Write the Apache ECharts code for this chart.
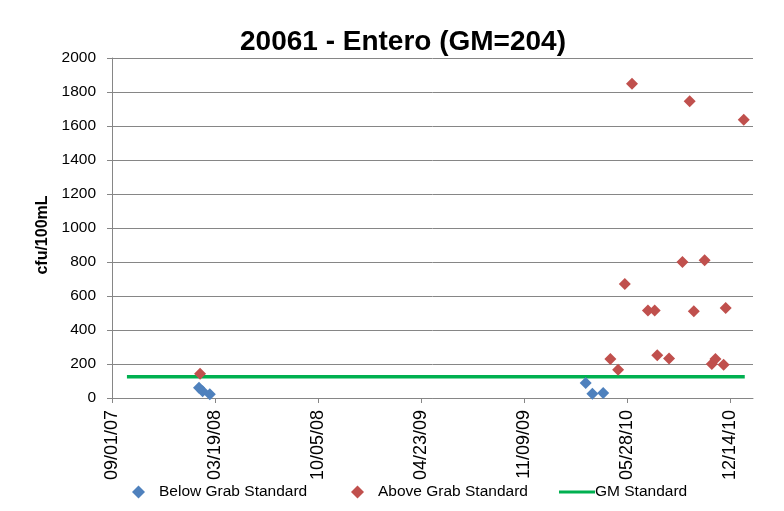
<!DOCTYPE html>
<html><head><meta charset="utf-8">
<script src="https://cdn.jsdelivr.net/npm/echarts@6/dist/echarts.min.js"></script>
<style>html,body{margin:0;padding:0;background:#fff}#c{width:784px;height:511px}</style>
</head><body><div id="c"></div>
<script>
var titleText = '20061 - Entero (GM=204)';
var yAxisName = 'cfu/100mL';
var axisStart = '2007-09-01';
var axisEnd = '2011-01-28';
var tickStepDays = 200;
var yTicks = [0, 200, 400, 600, 800, 1000, 1200, 1400, 1600, 1800, 2000];

var belowDates = ['2008-02-17','2008-02-24','2008-03-09','2010-03-09','2010-03-22','2010-04-12'];
var belowValues = [60, 40, 22, 88, 25, 29];

var aboveDates = ['2008-02-19','2010-04-26','2010-05-11','2010-05-24','2010-06-07','2010-07-08','2010-07-21','2010-07-26','2010-08-18','2010-09-13','2010-09-27','2010-10-05','2010-10-26','2010-11-09','2010-11-16','2010-12-02','2010-12-06','2011-01-10'];
var aboveValues = [143, 229, 166, 671, 1849, 514, 514, 251, 232, 800, 1745, 510, 810, 200, 230, 195, 529, 1637];

var gmDates = ['2007-09-30', '2011-01-12'];
var gmValues = [125, 125];

var DAY = 86400000;
function ts(s){ var p = s.split('-'); return Date.UTC(+p[0], +p[1]-1, +p[2]); }
var t0 = ts(axisStart);
function dayOf(s){ return Math.round((ts(s) - t0) / DAY); }
function pad(n){ return (n < 10 ? '0' : '') + n; }
function fmt(d){
  var dt = new Date(t0 + d * DAY);
  return pad(dt.getUTCMonth()+1) + '/' + pad(dt.getUTCDate()) + '/' + pad(dt.getUTCFullYear() % 100);
}
function pairs(ds, vs){ return ds.map(function(d,i){ return [dayOf(d), vs[i]]; }); }

var FONT = 'Liberation Sans, Arial, sans-serif';
var chart = echarts.init(document.getElementById('c'), null, {renderer:'canvas'});
chart.setOption({
  animation: false,
  backgroundColor: '#fff',
  title: {text: titleText, left: 398, top: 23, textAlign: 'center',
    textStyle: {fontFamily: FONT, fontSize: 28, fontWeight: 'bold', color: '#000'}},
  grid: {left: 112, right: 31, top: 58, bottom: 113, containLabel: false},
  xAxis: {
    type: 'value', min: 0, max: dayOf(axisEnd), interval: tickStepDays,
    axisLine: {show: true, onZero: false, lineStyle: {color: '#868686', width: 1}},
    axisTick: {show: true, inside: false, length: 5, lineStyle: {color: '#868686'}},
    splitLine: {show: false},
    axisLabel: {rotate: 90, margin: 12, fontFamily: FONT, fontSize: 18, color: '#000', showMaxLabel: false,
      formatter: function(v){ return v % tickStepDays === 0 ? fmt(v) : ''; }}
  },
  yAxis: {
    type: 'value', min: yTicks[0], max: yTicks[yTicks.length-1], interval: yTicks[1]-yTicks[0],
    name: yAxisName, nameLocation: 'middle', nameGap: 58, nameRotate: 90,
    nameTextStyle: {fontFamily: FONT, fontSize: 16, fontWeight: 'bold', color: '#000', padding: [0,14,0,0]},
    axisLine: {show: true, lineStyle: {color: '#868686', width: 1}},
    axisTick: {show: true, inside: false, length: 5, lineStyle: {color: '#868686'}},
    splitLine: {show: true, lineStyle: {color: '#868686', width: 1}},
    axisLabel: {margin: 16, fontFamily: FONT, fontSize: 15.5, color: '#000',
      formatter: function(v){ return String(v); }}
  },
  legend: [
    {left: 132, top: 484, padding: 0, itemWidth: 13, itemHeight: 13, itemGap: 0, data: [{name: 'Below Grab Standard', icon: 'diamond'}],
      textStyle: {fontFamily: FONT, fontSize: 15.5, color: '#000', padding: [0,0,0,9]}},
    {left: 351, top: 484, padding: 0, itemWidth: 13, itemHeight: 13, itemGap: 0, data: [{name: 'Above Grab Standard', icon: 'diamond'}],
      textStyle: {fontFamily: FONT, fontSize: 15.5, color: '#000', padding: [0,0,0,9]}},
    {left: 559, top: 484, padding: 0, itemWidth: 36, itemHeight: 3, itemGap: 0, data: [{name: 'GM Standard', icon: 'rect'}],
      textStyle: {fontFamily: FONT, fontSize: 15.5, color: '#000', padding: [0,0,0,-5]}}
  ],
  series: [
    {name: 'GM Standard', type: 'line', data: pairs(gmDates, gmValues), symbol: 'none',
      lineStyle: {color: '#00B050', width: 3.5}, itemStyle: {color: '#00B050'}, z: 2},
    {name: 'Below Grab Standard', type: 'scatter', data: pairs(belowDates, belowValues), symbol: 'diamond', symbolSize: 12,
      itemStyle: {color: '#4F81BD', opacity: 1}, z: 3},
    {name: 'Above Grab Standard', type: 'scatter', data: pairs(aboveDates, aboveValues), symbol: 'diamond', symbolSize: 12,
      itemStyle: {color: '#C0504D', opacity: 1}, z: 4}
  ]
});
</script></body></html>
